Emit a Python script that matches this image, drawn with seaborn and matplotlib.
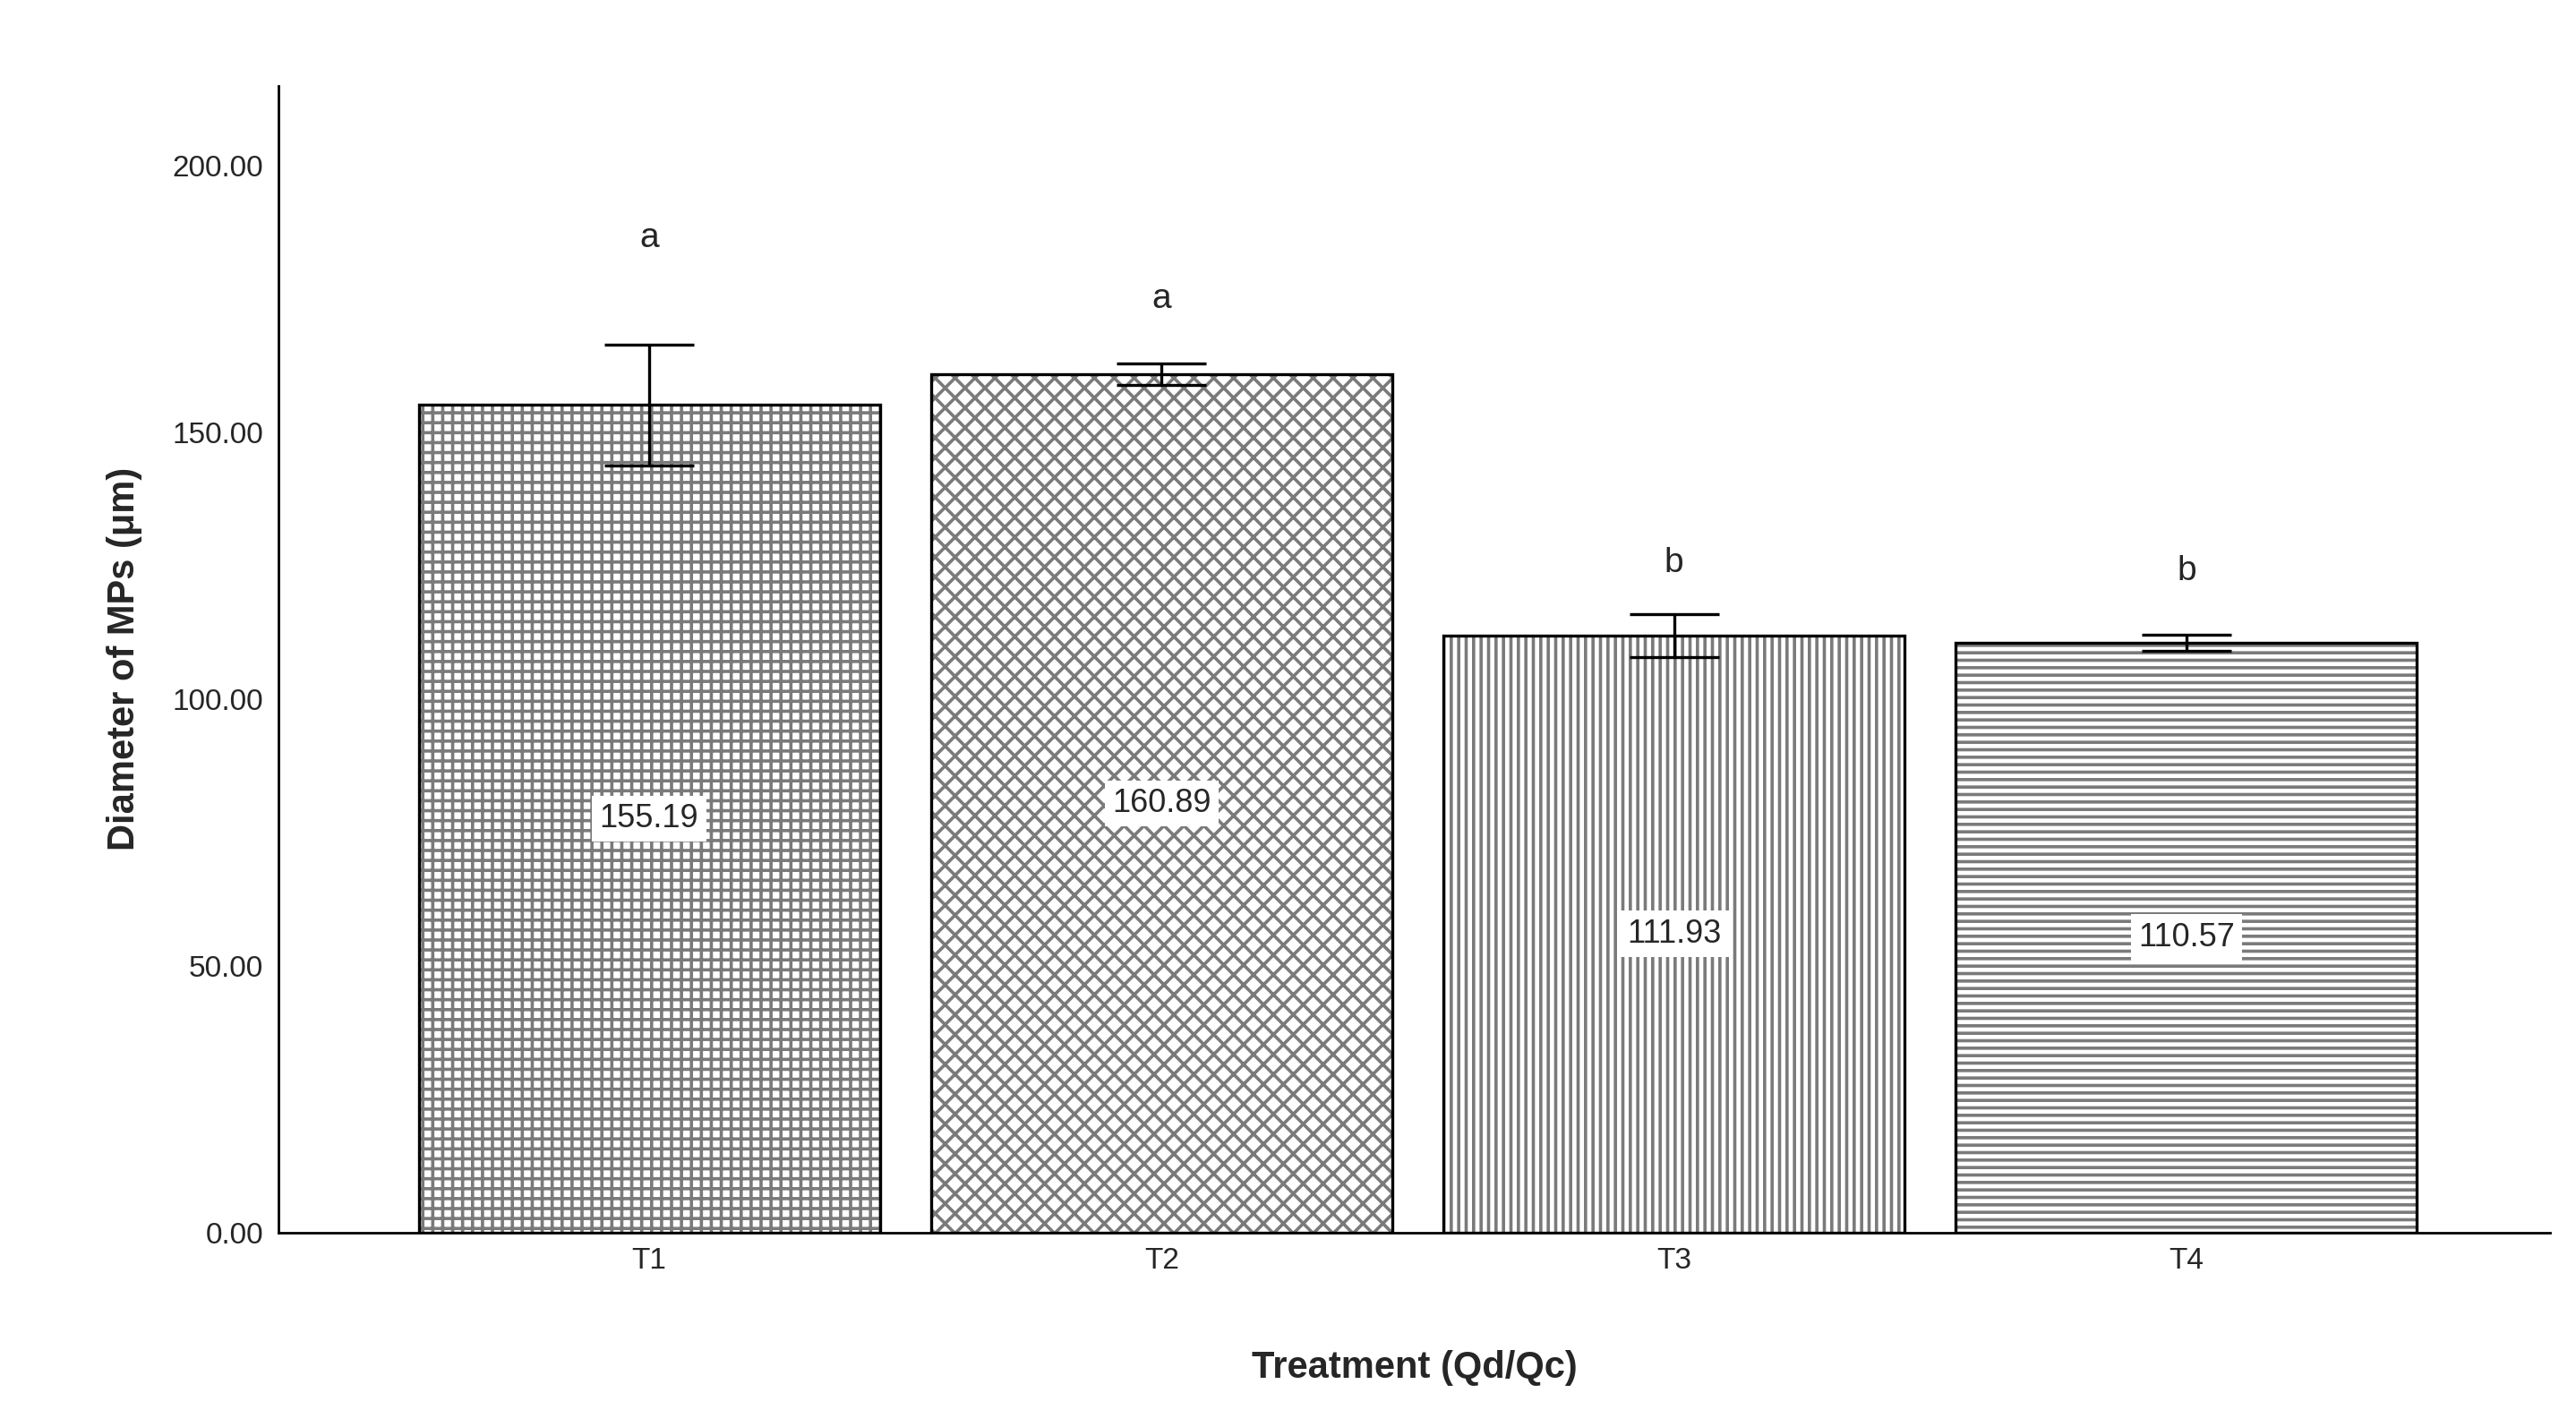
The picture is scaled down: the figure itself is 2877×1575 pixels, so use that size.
import numpy as np
import pandas as pd
import matplotlib
matplotlib.use("Agg")
import matplotlib.pyplot as plt
from matplotlib.patches import Rectangle
import seaborn as sns

# ==================== data ====================
treatments = ["T1", "T2", "T3", "T4"]
means = [155.19, 160.89, 111.93, 110.57]
errs = [11.3, 2.0, 4.0, 1.5]
letters = ["a", "a", "b", "b"]
letter_y = [186.5, 175.0, 125.5, 124.0]
hatches = ["+++", "xxx", "||||", "----"]

sns.set_theme(style="white")
plt.rcParams["font.family"] = ["Liberation Sans", "DejaVu Sans"]
plt.rcParams["hatch.linewidth"] = 1.3

df = pd.DataFrame({"Treatment": treatments, "Diameter": means})

fig = plt.figure(figsize=(14.385, 7.875), dpi=200)
ax = fig.add_axes([0.108, 0.126, 0.882, 0.813])
sns.barplot(data=df, x="Treatment", y="Diameter", color="white",
            edgecolor="#7a7a7a", linewidth=0, width=0.9, ax=ax)

for i, p in enumerate(list(ax.patches)):
    p.set_hatch(hatches[i])
    p.set_edgecolor("#7a7a7a")
    # black outline on top of the grey hatch
    ax.add_patch(Rectangle(p.get_xy(), p.get_width(), p.get_height(), fill=False,
                           edgecolor="black", linewidth=1.2, zorder=p.get_zorder() + 0.1))
    ax.text(i, means[i] / 2, f"{means[i]:.2f}", ha="center", va="center", fontsize=13,
            zorder=5, bbox=dict(facecolor="white", edgecolor="none", pad=3))
    ax.text(i, letter_y[i], letters[i], ha="center", va="center", fontsize=14)

ax.errorbar(range(len(treatments)), means, yerr=errs, fmt="none", ecolor="black",
            elinewidth=1.2, capsize=18, capthick=1.2, zorder=4)

ax.set_ylim(0, 215)
ax.set_xlim(-0.724, 3.71)
ax.set_yticks([0, 50, 100, 150, 200])
ax.set_yticklabels([f"{v:.2f}" for v in [0, 50, 100, 150, 200]], fontsize=12)
ax.tick_params(axis="x", labelsize=12)
ax.tick_params(axis="both", length=0, pad=6)
ax.set_xlabel("Treatment (Qd/Qc)", fontsize=15, fontweight="bold", labelpad=30)
ax.set_ylabel("Diameter of MPs (μm)", fontsize=15, fontweight="bold", labelpad=12)
for s in ["top", "right"]:
    ax.spines[s].set_visible(False)
for s in ["left", "bottom"]:
    ax.spines[s].set_color("black")
    ax.spines[s].set_linewidth(1.0)

fig.savefig("out.png", dpi=200)
